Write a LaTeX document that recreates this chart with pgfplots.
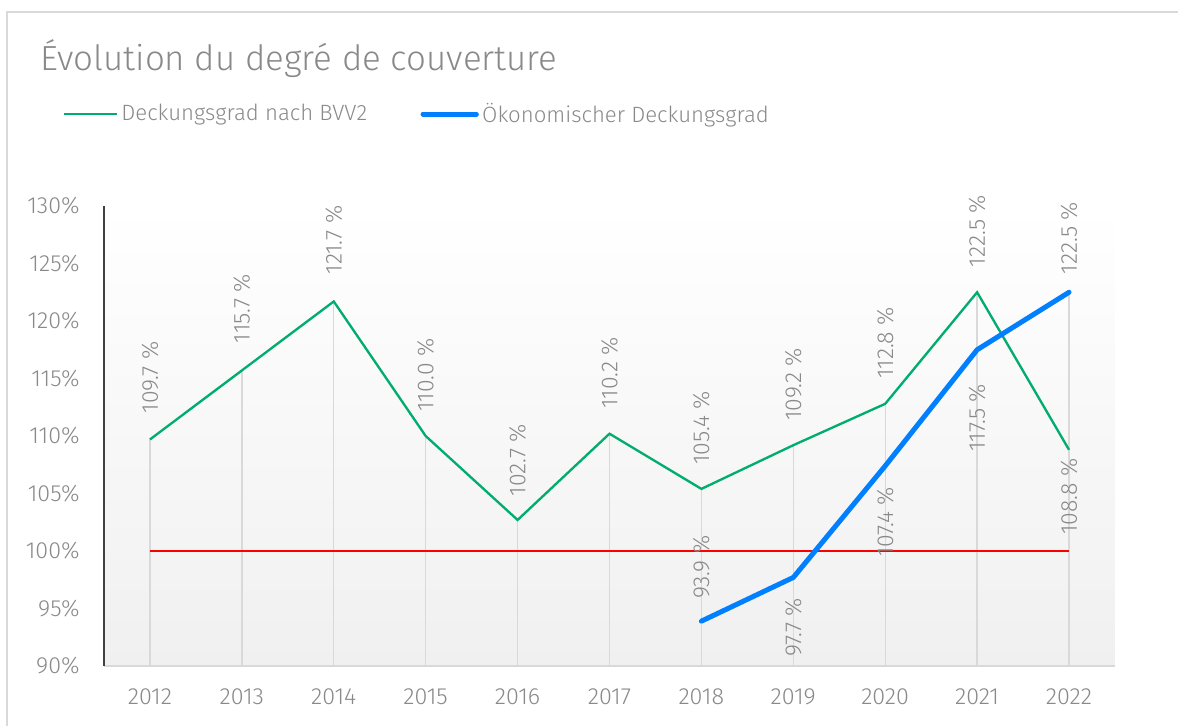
\documentclass[border=0pt]{standalone}
\usepackage{pgfplots}
\pgfplotsset{compat=1.18}
\usepackage{pgfplotstable}
\usepackage{fontspec}
\setmainfont{Fira Sans}[UprightFont=* Light]
\definecolor{txt}{HTML}{898989}
\definecolor{grn}{HTML}{00AD6E}
\definecolor{blu}{HTML}{0080FF}
\definecolor{drop}{HTML}{D9D9D9}
\definecolor{axl}{HTML}{404040}

\pgfplotstableread{
x y off
2012 109.7 62
2013 115.7 62
2014 121.7 61.5
2015 110.0 61
2016 102.7 60
2017 110.2 61
2018 105.4 61
2019 109.2 61
2020 112.8 61
2021 122.5 61
2022 108.8 -47
}\green
\pgfplotstableread{
x y off
2018 93.9 54
2019 97.7 -50
2020 107.4 -56
2021 117.5 -68
2022 122.5 54
}\blue
\pgfplotstableread{
x y
2012 109.7
2013 115.7
2014 121.7
2015 110.0
2016 102.7
2017 110.2
2018 105.4
2019 109.2
2020 112.8
2021 122.5
2022 122.5
}\dropvals

\begin{document}
\begin{tikzpicture}
\begin{scope}[x=0.6pt,y=0.6pt]
\useasboundingbox (0,0) rectangle (1178,726);
\draw[drop, line width=1.2pt] (7,0) -- (7,714) -- (1178,714);
\node[anchor=base west, font=\fontsize{20.9}{24}\selectfont, text=txt, inner sep=0] at (40,655) {Évolution du degré de couverture};
\end{scope}
\begin{axis}[at={(62.4pt,36pt)}, anchor=south west, scale only axis,
  width=606.6pt, height=276pt,
  xmin=2011.5, xmax=2022.5, ymin=90, ymax=130,
  xtick={2012,...,2022},
  xticklabels={2012,2013,2014,2015,2016,2017,2018,2019,2020,2021,2022},
  ytick={90,95,...,130},
  yticklabels={90\%,95\%,100\%,105\%,110\%,115\%,120\%,125\%,130\%},
  major tick length=0pt,
  axis x line*=bottom, axis y line*=left,
  x axis line style={drop, line width=1pt, -},
  y axis line style={axl, line width=0.8pt, -},
  tick label style={text=txt, font=\fontsize{14}{16}\selectfont},
  yticklabel style={inner sep=0pt, xshift=-14.4pt},
  xticklabel style={inner sep=0pt, yshift=-13.2pt},
  axis background/.style={top color=white, bottom color={rgb,255:red,240;green,240;blue,240}},
  clip=false,
  legend style={at={(-0.0415,1.2)}, anchor=west, draw=none, fill=none,
    legend columns=2, font=\fontsize{13.3}{15}\selectfont, text=txt,
    inner sep=0pt, /tikz/every even column/.append style={column sep=30pt}},
  legend image code/.code={\draw[#1] (0pt,0pt) -- (32pt,0pt);},
  legend cell align=left,
]
% drop lines
\addplot[draw=none, forget plot, error bars/.cd, y dir=minus, y explicit,
  error bar style={drop, line width=0.8pt}, error mark=none]
  table[x=x, y=y, y error expr=\thisrow{y}-90] {\dropvals};
% 100% line
\addplot[red, line width=1.5pt, forget plot] coordinates {(2012,100) (2022,100)};
% series
\addplot[grn, line width=1.4pt] table[x=x,y=y] {\green};
\addlegendentry{Deckungsgrad nach BVV2}
\addplot[blu, line width=3pt, line cap=round, line join=round] table[x=x,y=y] {\blue};
\addlegendentry{Ökonomischer Deckungsgrad}
% labels
\addplot[draw=none, forget plot, point meta=y,
  visualization depends on={\thisrow{off}\as\off},
  nodes near coords={\pgfmathprintnumber[fixed,fixed zerofill,precision=1,assume math mode=true]{\pgfplotspointmeta}\ \%},
  every node near coord/.append style={anchor=center, yshift=0.6*\off pt, rotate=90, text=txt, font=\fontsize{13.8}{15}\selectfont, inner sep=0pt}]
  table[x=x,y=y] {\green};
\addplot[draw=none, forget plot, point meta=y,
  visualization depends on={\thisrow{off}\as\off},
  nodes near coords={\pgfmathprintnumber[fixed,fixed zerofill,precision=1,assume math mode=true]{\pgfplotspointmeta}\ \%},
  every node near coord/.append style={anchor=center, yshift=0.6*\off pt, rotate=90, text=txt, font=\fontsize{13.8}{15}\selectfont, inner sep=0pt}]
  table[x=x,y=y] {\blue};
\end{axis}
\end{tikzpicture}
\end{document}
